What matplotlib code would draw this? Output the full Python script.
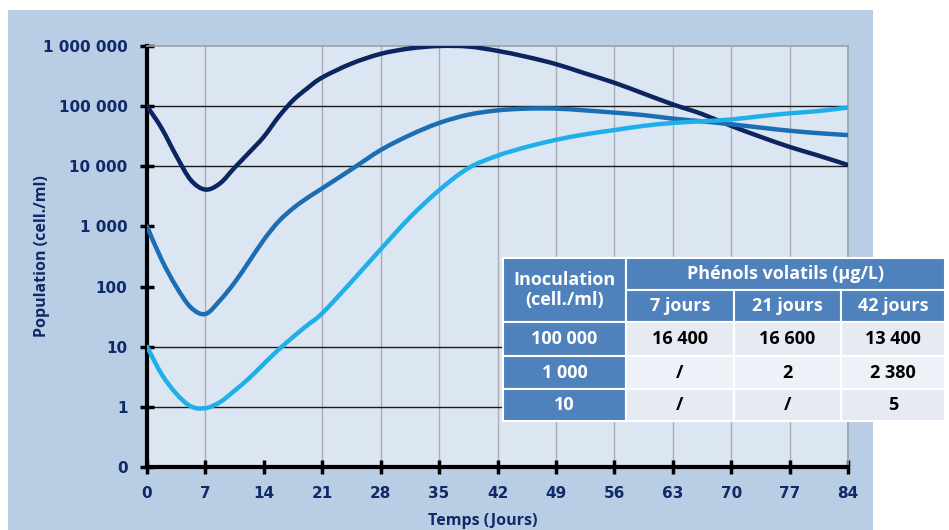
import numpy as np
import matplotlib.pyplot as plt
from matplotlib.patches import Rectangle, PathPatch
from matplotlib.path import Path

# days
days = [0, 1.75, 3.5, 5.25, 7, 8.75, 10.5, 12.25, 14, 15.75, 17.5, 19.25, 21,
        24.5, 28, 31.5, 35, 38.5, 42, 45.5, 49, 52.5, 56, 59.5, 63, 66.5, 70,
        73.5, 77, 80.5, 84]

# population (cell./ml) for each inoculation level
pop_100000 = [100000, 43000, 15000, 5900, 4100, 5200, 9500, 17000, 31000, 66000,
              125000, 200000, 300000, 510000, 740000, 910000, 1000000, 980000,
              830000, 660000, 500000, 350000, 245000, 162000, 107000, 74000,
              47000, 31000, 21000, 15000, 10500]
pop_1000 = [1000, 280, 100, 45, 35, 59, 117, 263, 600, 1200, 2000, 3000, 4300,
            8900, 18600, 33000, 52500, 72000, 85000, 91000, 91000, 85000, 78000,
            71000, 62000, 56000, 50000, 44000, 39000, 35500, 33000]
pop_10 = [10, 3.5, 1.66, 1.02, 0.95, 1.2, 1.86, 3.0, 5.2, 8.9, 14.5, 23, 36,
          120, 417, 1410, 4000, 9300, 15000, 21000, 27500, 34000, 40000, 47000,
          52500, 56000, 60000, 68000, 76000, 83000, 95000]

y_ticks = [0.1, 1, 10, 100, 1000, 10000, 100000, 1000000]
y_labels = ["0", "1", "10", "100", "1 000", "10 000", "100 000", "1 000 000"]
x_ticks = list(range(0, 85, 7))

# table content
tab_title = "Phénols volatils (µg/L)"
tab_days = ["7 jours", "21 jours", "42 jours"]
tab_inoc = ["100 000", "1 000", "10"]
tab_vals = [["16 400", "16 600", "13 400"],
            ["/", "2", "2 380"],
            ["/", "/", "5"]]

W, H = 949, 530
fig = plt.figure(figsize=(W / 100, H / 100), dpi=100)
fig.patch.set_facecolor("white")


def fx(px):
    return px / W


def fy(py):
    return 1 - py / H


def smooth_path(x, y):
    # Excel-style smoothed line: cubic bezier through the points (in log space)
    x = np.asarray(x, float)
    ly = np.log10(y)
    n = len(x)
    verts = [(x[0], ly[0])]
    codes = [Path.MOVETO]
    for i in range(n - 1):
        i0, i3 = max(i - 1, 0), min(i + 2, n - 1)
        c1 = (x[i] + (x[i + 1] - x[i0]) / 6, ly[i] + (ly[i + 1] - ly[i0]) / 6)
        c2 = (x[i + 1] - (x[i3] - x[i]) / 6, ly[i + 1] - (ly[i3] - ly[i]) / 6)
        verts += [c1, c2, (x[i + 1], ly[i + 1])]
        codes += [Path.CURVE4] * 3
    verts = [(a, 10 ** b) for a, b in verts]
    return Path(verts, codes)


# outer chart area background
fig.add_artist(Rectangle((fx(8), 0), fx(873) - fx(8), fy(10), transform=fig.transFigure,
                         facecolor="#b9cde5", edgecolor="none", zorder=0))

ax = fig.add_axes([fx(147), fy(467), fx(848) - fx(147), fy(46) - fy(467)])
ax.set_facecolor("#dce6f2")
ax.set_yscale("log")
ax.set_ylim(0.1, 1000000)
ax.set_xlim(0, 84)

navy = "#0f2a66"
for pop, col in [(pop_100000, "#0c2460"), (pop_1000, "#1b6db4"), (pop_10, "#1fb0ea")]:
    ax.add_patch(PathPatch(smooth_path(days, pop), facecolor="none", edgecolor=col,
                           lw=3.2, capstyle="round", zorder=3))

ax.set_yticks(y_ticks)
ax.set_yticklabels(y_labels)
ax.minorticks_off()
ax.set_xticks(x_ticks)

# grid lines as in the source (some are missing there)
for t in x_ticks[1:-1]:
    if t != 14:
        ax.axvline(t, color="#a8adb5", lw=1, zorder=1)
for v in [1, 10, 10000, 100000]:
    ax.axhline(v, color="#1a1a1a", lw=1, zorder=1)

for s in ["left", "bottom"]:
    ax.spines[s].set_linewidth(3)
    ax.spines[s].set_color("black")
for s in ["top", "right"]:
    ax.spines[s].set_linewidth(1.2)
    ax.spines[s].set_color("#9aa0a8")
ax.tick_params(direction="inout", length=10, width=2.5, color="black")
ax.tick_params(axis="y", pad=9)
ax.tick_params(axis="x", pad=9)
for lab in ax.get_yticklabels() + ax.get_xticklabels():
    lab.set_fontweight("bold")
    lab.set_fontsize(11)
    lab.set_color(navy)

fig.text(fx(42), fy(256), "Population (cell./ml)", rotation=90, ha="center", va="center",
         fontsize=11.5, fontweight="bold", color=navy, family="Open Sans")
fig.text(fx(483), fy(513), "Temps (Jours)", ha="center", va="top",
         fontsize=11.5, fontweight="bold", color=navy, family="Open Sans")

# table drawn over the chart
col_x = [503, 626, 734, 841, 945]
row_y = [258, 290, 322, 356, 389, 421]
head_c = "#4f81bd"
cell_c = ["#e6ebf3", "#eef1f7", "#e6ebf3"]
tkw = dict(ha="center", va="center", fontsize=13, fontweight="bold",
           family="Open Sans", linespacing=1.2)


def cell(x0, y0, x1, y1, color, text, tcolor):
    fig.add_artist(Rectangle((fx(x0), fy(y1)), fx(x1) - fx(x0), fy(y0) - fy(y1),
                             transform=fig.transFigure, facecolor=color,
                             edgecolor="white", lw=1.5, zorder=5))
    fig.text(fx((x0 + x1) / 2), fy((y0 + y1) / 2), text, color=tcolor, zorder=6, **tkw)


cell(col_x[0], row_y[0], col_x[1], row_y[2], head_c, "Inoculation\n(cell./ml)", "white")
cell(col_x[1], row_y[0], col_x[4], row_y[1], head_c, tab_title, "white")
for j, d in enumerate(tab_days):
    cell(col_x[j + 1], row_y[1], col_x[j + 2], row_y[2], head_c, d, "white")
for i, inoc in enumerate(tab_inoc):
    cell(col_x[0], row_y[i + 2], col_x[1], row_y[i + 3], head_c, inoc, "white")
    for j in range(3):
        cell(col_x[j + 1], row_y[i + 2], col_x[j + 2], row_y[i + 3], cell_c[i],
             tab_vals[i][j], "black")

fig.savefig("out.png", dpi=100)
